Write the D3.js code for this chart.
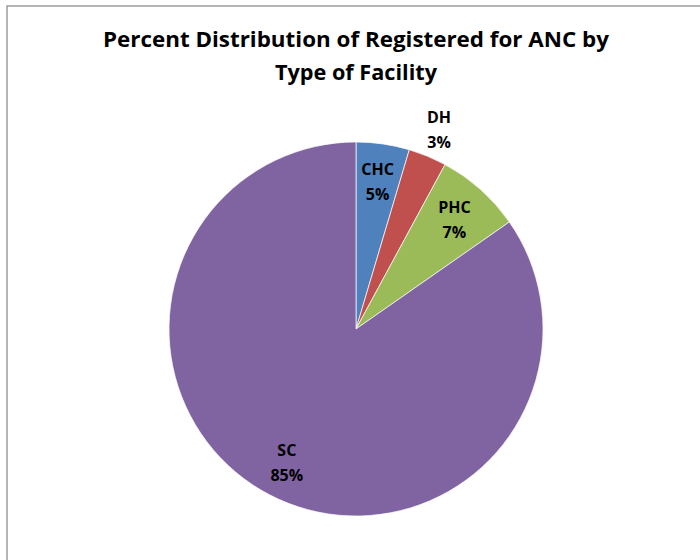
<html>
<head>
  <script src="https://d3js.org/d3.v7.min.js"></script>
  <style>
  body{ margin:0; background:#fff; }
  svg{ display:block; }
  </style>
</head>
<body>
  <svg id="chart"></svg>
  <script type="text/javascript">
    // data
    var facilities = ["CHC", "DH", "PHC", "SC"];
    var shares = [4.6, 3.3, 7.4, 84.7];
    var colors = ["#4F81BD", "#C0504D", "#9BBB59", "#8064A2"];
    // label distance from centre, as a fraction of the radius
    var labelRadius = [0.8, 1.16, 0.79, 0.8];
    var titleLines = ["Percent Distribution of Registered for ANC by", "Type of Facility"];

    var width = 700;
    var height = 560;
    var cx = 356;
    var cy = 329;
    var radius = 187;
    var font = "'Open Sans', 'Liberation Sans', sans-serif";

    var svg = d3.select("#chart")
                .attr("width", width)
                .attr("height", height);

    // chart frame
    svg.append("rect")
       .attr("x", 7)
       .attr("y", 6)
       .attr("width", width + 10)
       .attr("height", height + 10)
       .attr("fill", "#fff")
       .attr("stroke", "#8e8e8e")
       .attr("stroke-width", 1.3);

    // title
    svg.selectAll("text.title")
       .data(titleLines)
       .enter()
       .append("text")
       .attr("class", "title")
       .attr("x", cx)
       .attr("y", function(d, i){ return 47 + i * 33; })
       .attr("text-anchor", "middle")
       .style("font-family", font)
       .style("font-weight", "bold")
       .style("font-size", "21.5px")
       .attr("textLength", function(d, i){ return i == 0 ? 506 : 162; })
       .attr("lengthAdjust", "spacingAndGlyphs")
       .text(function(d){ return d; });

    var total = d3.sum(shares);
    var rows = facilities.map(function(f, i){
      return {name: f, value: shares[i], color: colors[i], lr: labelRadius[i]};
    });

    var pie = d3.pie()
                .sort(null)
                .value(function(d){ return d.value; });
    var arc = d3.arc()
                .innerRadius(0)
                .outerRadius(radius);

    var g = svg.append("g")
               .attr("transform", "translate(" + cx + "," + cy + ")");

    var slices = pie(rows);

    g.selectAll("path")
     .data(slices)
     .enter()
     .append("path")
     .attr("d", arc)
     .attr("fill", function(d){ return d.data.color; })
     .attr("stroke", "#fff")
     .attr("stroke-width", 0.7);

    // labels
    var labels = g.selectAll("text")
     .data(slices)
     .enter()
     .append("text")
     .attr("transform", function(d){
       var r = radius * d.data.lr;
       var la = d3.arc().innerRadius(r).outerRadius(r);
       var c = la.centroid(d);
       return "translate(" + c[0] + "," + c[1] + ")";
     })
     .attr("text-anchor", "middle")
     .style("font-family", font)
     .style("font-weight", "bold")
     .style("font-size", "16px")
     .attr("fill", "#000");

    labels.append("tspan")
          .attr("x", 0)
          .attr("y", -6)
          .text(function(d){ return d.data.name; });
    labels.append("tspan")
          .attr("x", 0)
          .attr("y", 19)
          .text(function(d){ return Math.round(d.data.value / total * 100) + "%"; });
  </script>
</body>
</html>
